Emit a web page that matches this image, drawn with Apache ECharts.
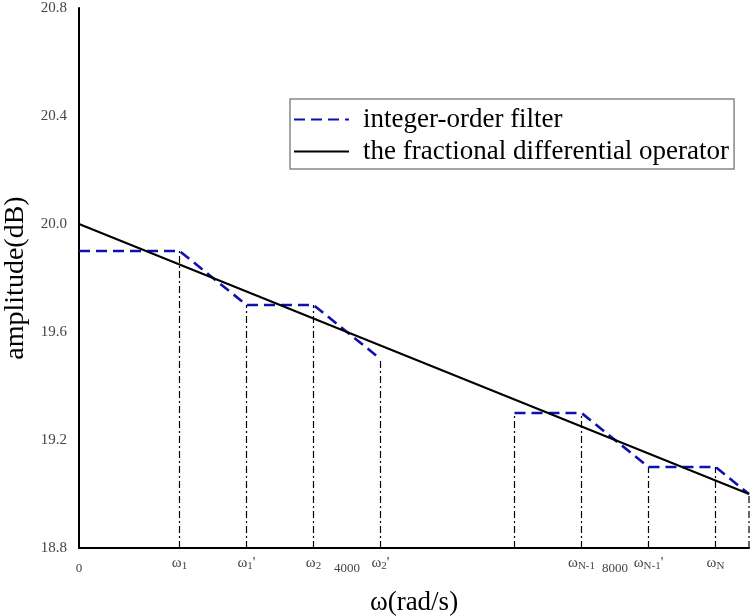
<!DOCTYPE html>
<html>
<head>
<meta charset="utf-8">
<script src="https://cdn.jsdelivr.net/npm/echarts@6/dist/echarts.min.js"></script>
<style>html,body{margin:0;padding:0;background:#fff}#c{width:754px;height:616px}</style>
</head>
<body>
<div id="c"></div>
<script>
// ---- data ----
const xRange = [0, 10000];
const yRange = [18.8, 20.8];
const yTickStep = 0.4;
const xTickStep = 4000;
// fractional differential operator (straight line)
const fracX = [0, 10000];
const fracY = [20.0, 19.0];
// integer-order filter, first group of steps
const filterAX = [0, 1500, 2500, 3500, 4500];
const filterAY = [19.9, 19.9, 19.7, 19.7, 19.5];
// integer-order filter, last group of steps
const filterBX = [6500, 7500, 8500, 9500, 10000];
const filterBY = [19.3, 19.3, 19.1, 19.1, 19.0];
// vertical dash-dot guide lines (x position, top value)
const guideX = [1500, 2500, 3500, 4500, 6500, 7500, 8500, 9500, 10000];
const guideTop = [19.9, 19.7, 19.7, 19.5, 19.3, 19.3, 19.1, 19.1, 19.0];
// frequency marker labels
const omegaX = [1500, 2500, 3500, 4500, 7500, 8500, 9500];
const omegaLabels = ["ω{s|1}", "ω{s|1}'", "ω{s|2}", "ω{s|2}'", "ω{s|N-1}", "ω{s|N-1}'", "ω{s|N}"];
const legendNames = ['integer-order filter', 'the fractional differential operator'];

const serif = '"Liberation Serif", "DejaVu Serif", serif';
const zip = (xs, ys) => xs.map((x, i) => [x, ys[i]]);

const guideSeries = guideX.map((x, i) => ({
  type: 'line', name: 'guide' + i, symbol: 'none', silent: true, z: 1,
  data: [[x, yRange[0]], [x, guideTop[i]]],
  lineStyle: { color: '#000', width: 1.2, type: [7, 3, 2, 3] }
}));

const chart = echarts.init(document.getElementById('c'), null, { renderer: 'canvas' });
chart.setOption({
  animation: false,
  backgroundColor: '#fff',
  grid: { left: 79, right: 5, top: 8, bottom: 68, containLabel: false, outerBoundsMode: 'none' },
  legend: {
    data: legendNames,
    orient: 'vertical', left: 290, top: 99,
    borderColor: '#888', borderWidth: 1.5,
    padding: [7, 5, 4, 3],
    itemWidth: 55, itemHeight: 14, itemGap: 5,
    itemStyle: { opacity: 0 },
    textStyle: { fontFamily: serif, fontSize: 27, color: '#000', padding: [0, 0, 0, 9] }
  },
  xAxis: [
    {
      type: 'value', min: xRange[0], max: xRange[1], interval: xTickStep,
      name: 'ω(rad/s)', nameLocation: 'middle', nameGap: 41,
      nameTextStyle: { fontFamily: serif, fontSize: 27, color: '#000' },
      axisLine: { lineStyle: { color: '#000', width: 2 } },
      axisTick: { show: false }, splitLine: { show: false },
      axisLabel: { showMaxLabel: false, margin: 14, fontFamily: serif, fontSize: 13, color: '#444',
        formatter: v => String(v) }
    },
    {
      type: 'value', min: xRange[0], max: xRange[1], interval: 500, position: 'bottom',
      axisLine: { show: false }, axisTick: { show: false }, splitLine: { show: false },
      axisLabel: {
        margin: 6, fontFamily: serif, fontSize: 15, color: '#444',
        showMinLabel: true, showMaxLabel: true, interval: 0,
        formatter: v => { const k = omegaX.indexOf(v); return k >= 0 ? omegaLabels[k] : ''; },
        rich: { s: { fontFamily: serif, fontSize: 11, color: '#444', padding: [7, 0, 0, 0] } }
      }
    }
  ],
  yAxis: {
    type: 'value', min: yRange[0], max: yRange[1], interval: yTickStep,
    name: 'amplitude(dB)', nameLocation: 'middle', nameGap: 46,
    nameTextStyle: { fontFamily: serif, fontSize: 28, color: '#000' },
    axisLine: { lineStyle: { color: '#000', width: 2 } },
    axisTick: { show: false }, splitLine: { show: false },
    axisLabel: { margin: 12, fontFamily: serif, fontSize: 15, color: '#444', formatter: v => v.toFixed(1) }
  },
  series: [
    ...guideSeries,
    {
      type: 'line', name: legendNames[0], symbol: 'none', z: 3,
      data: zip(filterAX, filterAY),
      color: '#1010b0',
      lineStyle: { color: '#1010b0', width: 2.6, type: [11, 6] }
    },
    {
      type: 'line', name: legendNames[0], symbol: 'none', z: 3,
      data: zip(filterBX, filterBY),
      color: '#1010b0',
      lineStyle: { color: '#1010b0', width: 2.6, type: [11, 6] }
    },
    {
      type: 'line', name: legendNames[1], symbol: 'none', z: 4,
      data: zip(fracX, fracY),
      color: '#000',
      lineStyle: { color: '#000', width: 2 }
    }
  ]
});
</script>
</body>
</html>
